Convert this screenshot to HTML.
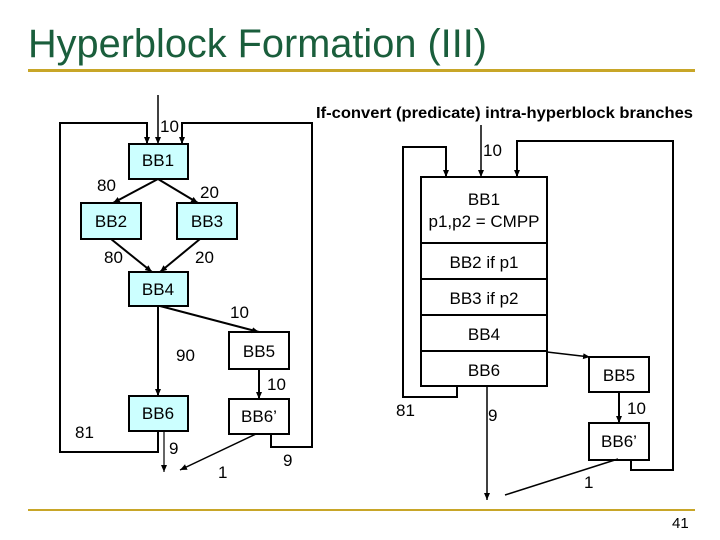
<!DOCTYPE html>
<html><head><meta charset="utf-8"><style>
body{margin:0;background:#fff}
svg{display:block;font-family:"Liberation Sans",Arial,sans-serif}
</style></head><body>
<svg width="720" height="540" viewBox="0 0 720 540" xmlns="http://www.w3.org/2000/svg">
<defs>
<marker id="a" markerWidth="8" markerHeight="8" refX="7" refY="4" orient="auto" markerUnits="userSpaceOnUse">
<path d="M0,1 L7,4 L0,7 Z" fill="#000"/></marker>
</defs>
<text x="28" y="57" font-size="40" fill="#1a5e3c" textLength="459" lengthAdjust="spacingAndGlyphs">Hyperblock Formation (III)</text>
<rect x="28" y="69" width="667" height="3" fill="#c8a628"/>
<rect x="28" y="509" width="667" height="2" fill="#c8a628"/>
<text x="672" y="528" font-size="15">41</text>
<text x="316" y="118" font-size="16" font-weight="bold" textLength="377" lengthAdjust="spacingAndGlyphs">If-convert (predicate) intra-hyperblock branches</text>

<g stroke="#000" stroke-width="2" fill="none">
<rect x="129" y="144" width="59" height="35" fill="#ccffff"/>
<rect x="81" y="203" width="60" height="36" fill="#ccffff"/>
<rect x="177" y="203" width="60" height="36" fill="#ccffff"/>
<rect x="129" y="272" width="59" height="34" fill="#ccffff"/>
<rect x="229" y="332" width="60" height="37" fill="#fff"/>
<rect x="129" y="396" width="59" height="35" fill="#ccffff"/>
<rect x="229" y="399" width="60" height="35" fill="#fff"/>
<path d="M158,95 L158,144" marker-end="url(#a)" stroke-width="1.5"/>
<path d="M158,431 L158,452 L60,452 L60,123 L147,123 L147,144" marker-end="url(#a)"/>
<path d="M271,434 L271,447 L312,447 L312,123 L182,123 L182,144" marker-end="url(#a)"/>
<path d="M158,179 L113,203" marker-end="url(#a)"/>
<path d="M158,179 L198,203" marker-end="url(#a)"/>
<path d="M111,239 L152,272" marker-end="url(#a)"/>
<path d="M200,239 L160,272" marker-end="url(#a)"/>
<path d="M158,306 L158,396" marker-end="url(#a)"/>
<path d="M160,306 L259,332" marker-end="url(#a)"/>
<path d="M259,369 L259,399" marker-end="url(#a)"/>
<path d="M164,431 L164,472" marker-end="url(#a)" stroke-width="1.2"/>
<path d="M256,434 L180,470" marker-end="url(#a)" stroke-width="1.5"/>
<rect x="421" y="177" width="126" height="209" fill="#fff"/>
<path d="M421,243 H547 M421,279 H547 M421,315 H547 M421,351 H547"/>
<rect x="589" y="357" width="60" height="35" fill="#fff"/>
<rect x="589" y="423" width="60" height="37" fill="#fff"/>
<path d="M481,125 L481,177" marker-end="url(#a)" stroke-width="1.5"/>
<path d="M457,386 L457,397 L403,397 L403,147 L446,147 L446,177" marker-end="url(#a)"/>
<path d="M631,460 L631,470 L673,470 L673,141 L517,141 L517,177" marker-end="url(#a)"/>
<path d="M547,352 L590,357" marker-end="url(#a)" stroke-width="1.5"/>
<path d="M619,392 L619,423" marker-end="url(#a)"/>
<path d="M487,386 L487,500" marker-end="url(#a)" stroke-width="1.5"/>
<path d="M618,459 L505,495" stroke-width="1.5"/>
</g>
<g font-size="17" text-anchor="middle">
<text x="158" y="166">BB1</text>
<text x="111" y="227">BB2</text>
<text x="207" y="227">BB3</text>
<text x="158" y="295">BB4</text>
<text x="259" y="357">BB5</text>
<text x="158" y="419">BB6</text>
<text x="259" y="422">BB6’</text>
<text x="484" y="205">BB1</text>
<text x="484" y="227">p1,p2 = CMPP</text>
<text x="484" y="268">BB2 if p1</text>
<text x="484" y="304">BB3 if p2</text>
<text x="484" y="340">BB4</text>
<text x="484" y="376">BB6</text>
<text x="619" y="381">BB5</text>
<text x="619" y="447">BB6’</text>
</g>
<g font-size="17">
<text x="160" y="132">10</text>
<text x="97" y="191">80</text>
<text x="200" y="198">20</text>
<text x="104" y="263">80</text>
<text x="195" y="263">20</text>
<text x="230" y="318">10</text>
<text x="176" y="361">90</text>
<text x="267" y="390">10</text>
<text x="75" y="438">81</text>
<text x="169" y="454">9</text>
<text x="218" y="478">1</text>
<text x="283" y="466">9</text>
<text x="483" y="156">10</text>
<text x="396" y="416">81</text>
<text x="488" y="421">9</text>
<text x="627" y="414">10</text>
<text x="584" y="488">1</text>
</g>
</svg>
</body></html>
